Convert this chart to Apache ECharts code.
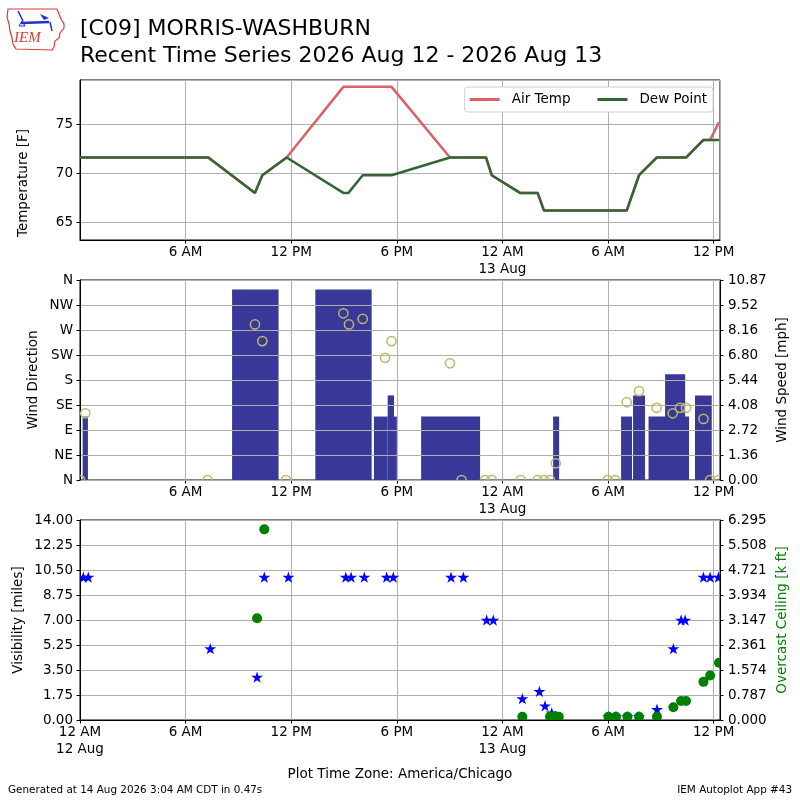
<!DOCTYPE html>
<html>
<head>
<meta charset="utf-8">
<title>C09 time series</title>
<script src="https://cdn.jsdelivr.net/npm/echarts@6/dist/echarts.min.js"></script>
<style>
  html, body { margin: 0; padding: 0; background: #fff; }
  #main { width: 800px; height: 800px; }
</style>
</head>
<body>
<div id="main"></div>
<script>
// hours since 12 AM 12 Aug (America/Chicago)
var tempHours = [0.0, 7.29, 9.94, 10.36, 11.74, 14.96, 15.25, 16.06, 17.7, 21.02, 23.07, 23.39, 25.0, 26.0, 26.36, 31.06, 31.76, 32.76, 34.43, 35.42, 35.8, 36.3];
var airTemp   = [71.6, 71.6, 68.0, 69.8, 71.6, 78.8, 78.8, 78.8, 78.8, 71.6, 71.6, 69.8, 68.0, 68.0, 66.2, 66.2, 69.8, 71.6, 71.6, 73.4, 73.4, 75.2];
var dewPoint  = [71.6, 71.6, 68.0, 69.8, 71.6, 68.0, 68.0, 69.8, 69.8, 71.6, 71.6, 69.8, 68.0, 68.0, 66.2, 66.2, 69.8, 71.6, 71.6, 73.4, 73.4, 73.4];

// wind direction obs
var windHours = [0.0, 0.3, 7.25, 9.94, 10.36, 11.7, 14.96, 15.28, 16.06, 17.33, 17.7, 21.02, 21.68, 23.01, 23.39, 25.04, 26.0, 26.36, 26.7, 27.03, 29.98, 30.4, 31.06, 31.76, 32.76, 33.67, 34.09, 34.43, 35.42, 35.8, 36.27];
var windDir   = [0, 120, 0, 280, 250, 0, 300, 280, 290, 220, 250, 210, 0, 0, 0, 0, 0, 0, 0, 30, 0, 0, 140, 160, 130, 120, 130, 130, 110, 0, 0];

// wind speed bars [mph]
var barStart = [0.15, 8.64, 13.37, 16.7, 17.48, 17.84, 19.38, 26.88, 30.74, 31.42, 32.3, 33.24, 34.94];
var barEnd   = [0.45, 11.28, 16.57, 17.48, 17.84, 18.0, 22.73, 27.22, 31.36, 32.1, 34.6, 34.38, 35.89];
var barSpeed = [3.45, 10.36, 10.36, 3.45, 4.6, 3.45, 3.45, 3.45, 3.45, 4.6, 3.45, 5.75, 4.6];

// visibility [miles]
var visHours   = [0.19, 0.47, 7.4, 10.06, 10.47, 11.84, 15.1, 15.4, 16.15, 17.42, 17.8, 21.08, 21.78, 23.1, 23.48, 25.13, 26.1, 26.42, 26.8, 27.0, 30.02, 30.45, 31.1, 31.76, 32.78, 33.71, 34.15, 34.38, 35.42, 35.8, 36.27];
var visibility = [10, 10, 5, 3, 10, 10, 10, 10, 10, 10, 10, 10, 10, 7, 7, 1.5, 2, 1, 0.5, 0.25, 0.25, 0.25, 0.25, 0.25, 0.75, 5, 7, 7, 10, 10, 10];

// overcast ceiling [k ft]
var ceilHours = [10.06, 10.47, 25.13, 26.7, 26.95, 27.2, 30.02, 30.45, 31.1, 31.76, 32.78, 33.71, 34.15, 34.43, 35.42, 35.8, 36.3];
var ceiling   = [3.2, 6.0, 0.1, 0.1, 0.1, 0.1, 0.1, 0.1, 0.1, 0.1, 0.1, 0.4, 0.6, 0.6, 1.2, 1.4, 1.8];

var dirLabels = ['N', 'NE', 'E', 'SE', 'S', 'SW', 'W', 'NW', 'N'];
var xMax = 36.36;
var speedMax = 10.8745;
var visMax = 14.0;
var ceilMax = 6.295;

var FONT = 'DejaVu Sans';
var FS = 13.5;

function zip(a, b) {
    var out = [];
    for (var i = 0; i < a.length; i++) out.push([a[i], b[i]]);
    return out;
}

function hourLabel(v) {
    var h = Math.round(v) % 24;
    var s;
    if (h == 0) s = '12 AM';
    else if (h < 12) s = h + ' AM';
    else if (h == 12) s = '12 PM';
    else s = (h - 12) + ' PM';
    if (h == 0) s += '\n' + (v < 12 ? '12 Aug' : '13 Aug');
    return s;
}

function xAxisFor(idx, showMin) {
    return {
        type: 'value', gridIndex: idx, min: 0, max: xMax, interval: 6,
        axisLine: { show: true, onZero: false, lineStyle: { color: '#000' } },
        axisTick: { show: true, length: 3.5, lineStyle: { color: '#000' } },
        axisLabel: { formatter: hourLabel, color: '#000', fontFamily: FONT, fontSize: FS,
                     margin: 4, lineHeight: 17, showMinLabel: showMin, showMaxLabel: false },
        splitLine: { show: true, lineStyle: { color: '#b0b0b0', width: 1 } }
    };
}

function yAxisFor(idx, pos, min, max, interval, fmt, grid) {
    var ax = {
        type: 'value', gridIndex: idx, position: pos, min: min, max: max,
        axisLine: { show: true, lineStyle: { color: '#000' } },
        axisTick: { show: true, length: 3.5, lineStyle: { color: '#000' } },
        axisLabel: { formatter: fmt, color: '#000', fontFamily: FONT, fontSize: FS, margin: 7 },
        splitLine: { show: grid, lineStyle: { color: '#b0b0b0', width: 1 } }
    };
    if (interval) ax.interval = interval;
    return ax;
}

var tempAxis = yAxisFor(0, 'left', 63.2, 79.5, null, '{value}', true);
tempAxis.minInterval = 5;
tempAxis.maxInterval = 5;
tempAxis.axisLabel.showMinLabel = false;
tempAxis.axisLabel.showMaxLabel = false;

var dirAxis = yAxisFor(1, 'left', 0, 360, 45, function (v) { return dirLabels[Math.round(v / 45)]; }, true);
dirAxis.z = 3;
var speedAxis = yAxisFor(1, 'right', 0, speedMax, speedMax / 8, function (v) { return v.toFixed(2); }, false);
speedAxis.axisLabel.margin = 8;
var visAxis = yAxisFor(2, 'left', 0, visMax, visMax / 8, function (v) { return v.toFixed(2); }, true);
var ceilAxis = yAxisFor(2, 'right', 0, ceilMax, ceilMax / 8, function (v) { return v.toFixed(3); }, false);
ceilAxis.axisLabel.margin = 8;

var windBars = [];
for (var i = 0; i < barStart.length; i++) windBars.push([barStart[i], barEnd[i], barSpeed[i]]);

var starPath = 'M50,0 L61,35 L98,35 L68,57 L79,91 L50,70 L21,91 L32,57 L2,35 L39,35 Z';

// markers drawn through custom series so they clip at the axes edge like the original
function circleMarker(r, style) {
    return function (params, api) {
        var p = api.coord([api.value(0), api.value(1)]);
        return { type: 'circle', shape: { cx: p[0], cy: p[1], r: r }, style: style };
    };
}

function starMarker(size, color) {
    return function (params, api) {
        var p = api.coord([api.value(0), api.value(1)]);
        return {
            type: 'path',
            shape: { pathData: starPath, x: p[0] - size / 2, y: p[1] - size / 2, width: size, height: size },
            style: { fill: color }
        };
    };
}

function axisName(text, x, y, color) {
    return {
        type: 'text', x: x, y: y, rotation: Math.PI / 2,
        style: { text: text, fill: color || '#000', font: FS + 'px "' + FONT + '"',
                 textAlign: 'center', textVerticalAlign: 'middle' }
    };
}

var chart = echarts.init(document.getElementById('main'));
var option = {
    animation: false,
    backgroundColor: '#fff',
    grid: [
        { left: 80, top: 80, width: 640, height: 160, show: true, borderColor: '#000', borderWidth: 1 },
        { left: 80, top: 280, width: 640, height: 200, show: true, borderColor: '#000', borderWidth: 1 },
        { left: 80, top: 520, width: 640, height: 200, show: true, borderColor: '#000', borderWidth: 1 }
    ],
    xAxis: [xAxisFor(0, false), xAxisFor(1, false), xAxisFor(2, true)],
    yAxis: [tempAxis, dirAxis, speedAxis, visAxis, ceilAxis],
    legend: {
        data: ['Air Temp', 'Dew Point'],
        right: 87, top: 87,
        icon: 'rect',
        itemWidth: 30, itemHeight: 3, itemGap: 27,
        padding: [5, 6, 5, 5],
        backgroundColor: '#fff', borderColor: '#d0d0d0', borderWidth: 1, borderRadius: 3,
        textStyle: { fontFamily: FONT, fontSize: FS, color: '#000', padding: [0, 0, 0, 7], lineHeight: 15 }
    },
    graphic: [
        // IEM logo
        { type: 'polygon', shape: { points: [[8, 9], [57, 9], [59, 14], [61, 19], [64, 24], [64, 28], [60, 33], [59, 38], [55, 41], [54, 47], [52, 50], [16, 49], [13, 44], [12, 38], [10, 31], [9, 24], [7, 17]] },
          style: { fill: 'none', stroke: '#d83c3c', lineWidth: 1.2 } },
        { type: 'text', x: 14, y: 31, style: { text: 'IEM', fill: '#d83c3c', font: 'italic 15px "Liberation Serif"' } },
        { type: 'line', shape: { x1: 21, y1: 23, x2: 49, y2: 22 }, style: { stroke: '#2030c8', lineWidth: 2.5 } },
        { type: 'line', shape: { x1: 18, y1: 11, x2: 23, y2: 21 }, style: { stroke: '#2030c8', lineWidth: 1.5 } },
        { type: 'polygon', shape: { points: [[40, 14], [49, 18], [44, 20]] }, style: { fill: '#2030c8' } },
        { type: 'polygon', shape: { points: [[19, 26], [22, 21], [25, 26]] }, style: { fill: 'none', stroke: '#2030c8', lineWidth: 1 } },
        { type: 'line', shape: { x1: 50, y1: 22, x2: 52, y2: 31 }, style: { stroke: '#2030c8', lineWidth: 1.5 } },
        // titles
        { type: 'text', x: 80, y: 18, style: { text: '[C09] MORRIS-WASHBURN', fill: '#000', font: '22px "' + FONT + '"' } },
        { type: 'text', x: 80, y: 45, style: { text: 'Recent Time Series 2026 Aug 12 - 2026 Aug 13', fill: '#000', font: '22px "' + FONT + '"' } },
        // axis names
        axisName('Temperature [F]', 23, 183),
        axisName('Wind Direction', 33, 380),
        axisName('Wind Speed [mph]', 782, 380),
        axisName('Visibility [miles]', 18, 620),
        axisName('Overcast Ceiling [k ft]', 782, 620, '#008000'),
        // footer
        { type: 'text', x: 400, y: 774, style: { text: 'Plot Time Zone: America/Chicago', fill: '#000', font: FS + 'px "' + FONT + '"', textAlign: 'center', textVerticalAlign: 'middle' } },
        { type: 'text', x: 8, y: 790, style: { text: 'Generated at 14 Aug 2026 3:04 AM CDT in 0.47s', fill: '#000', font: '10.4px "' + FONT + '"', textVerticalAlign: 'middle' } },
        { type: 'text', x: 792, y: 790, style: { text: 'IEM Autoplot App #43', fill: '#000', font: '10.4px "' + FONT + '"', textAlign: 'right', textVerticalAlign: 'middle' } }
    ],
    series: [
        {
            name: 'Air Temp', type: 'line', xAxisIndex: 0, yAxisIndex: 0,
            data: zip(tempHours, airTemp), symbol: 'none', clip: true,
            lineStyle: { color: '#dd6066', width: 2.5 }, itemStyle: { color: '#dd6066' }, z: 2
        },
        {
            name: 'Dew Point', type: 'line', xAxisIndex: 0, yAxisIndex: 0,
            data: zip(tempHours, dewPoint), symbol: 'none', clip: true,
            lineStyle: { color: '#346634', width: 2.5 }, itemStyle: { color: '#346634' }, z: 3
        },
        {
            name: 'Wind Speed', type: 'custom', xAxisIndex: 1, yAxisIndex: 2,
            data: windBars, encode: { x: [0, 1], y: 2 }, clip: true, z: 2,
            renderItem: function (params, api) {
                var p0 = api.coord([api.value(0), 0]);
                var p1 = api.coord([api.value(1), api.value(2)]);
                return {
                    type: 'rect',
                    shape: { x: p0[0], y: p1[1], width: p1[0] - p0[0], height: p0[1] - p1[1] },
                    style: { fill: '#383898' }
                };
            }
        },
        {
            name: 'Wind Direction', type: 'custom', xAxisIndex: 1, yAxisIndex: 1,
            data: zip(windHours, windDir), encode: { x: 0, y: 1 }, clip: true, z: 5,
            renderItem: circleMarker(4.6, { fill: 'none', stroke: '#bdb76b', lineWidth: 1.5 })
        },
        {
            name: 'Visibility', type: 'custom', xAxisIndex: 2, yAxisIndex: 3,
            data: zip(visHours, visibility), encode: { x: 0, y: 1 }, clip: true, z: 3,
            renderItem: starMarker(12, '#0000ff')
        },
        {
            name: 'Ceiling', type: 'custom', xAxisIndex: 2, yAxisIndex: 4,
            data: zip(ceilHours, ceiling), encode: { x: 0, y: 1 }, clip: true, z: 4,
            renderItem: circleMarker(5, { fill: '#008000' })
        }
    ]
};
chart.setOption(option);
</script>
</body>
</html>
